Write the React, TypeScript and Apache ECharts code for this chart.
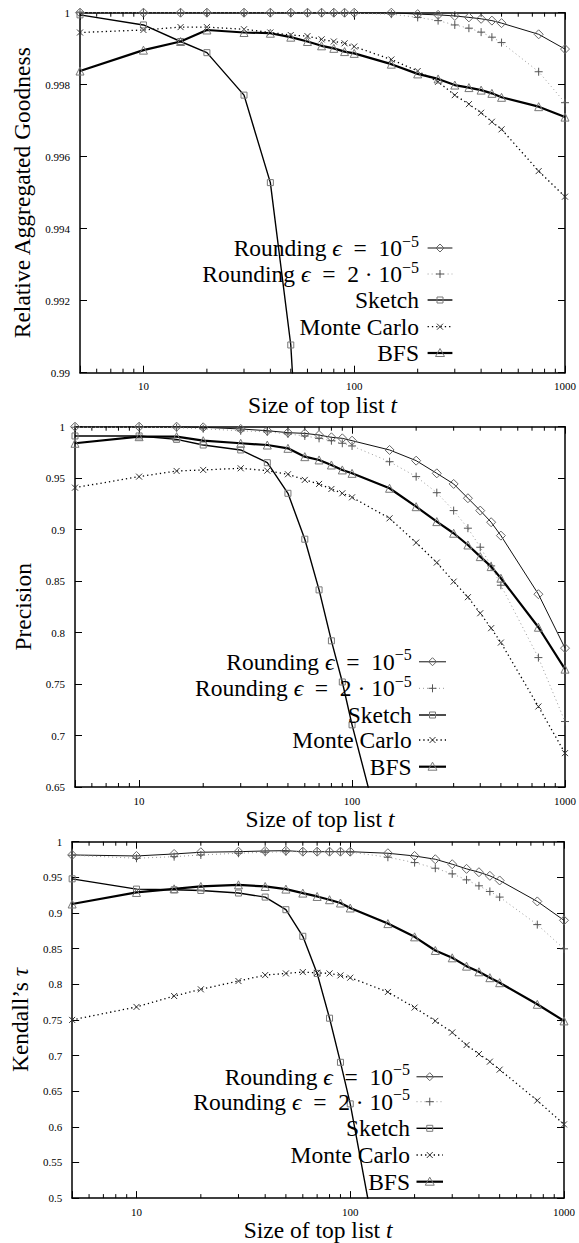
import React, { useEffect, useRef } from 'react';
import * as echarts from 'echarts';

// ---------------- data ----------------
const tValues = [5, 10, 15, 20, 30, 40, 50, 60, 70, 80, 90, 100, 150, 200, 250, 300, 350, 400, 450, 500, 750, 1000];
const minorTickValues = [6, 7, 8, 9, 20, 30, 40, 50, 60, 70, 80, 90, 200, 300, 400, 500, 600, 700, 800, 900];
const xLabelValues = [10, 100, 1000];

const seriesNames = ['Rounding ϵ = 10^-5', 'Rounding ϵ = 2·10^-5', 'Sketch', 'Monte Carlo', 'BFS'];

// Panel 1: Relative Aggregated Goodness
const goodRound1 = [1, 1, 1, 1, 1, 1, 1, 1, 1, 1, 1, 1, 1, 0.99996, 0.99994, 0.99991, 0.99987, 0.99983, 0.99978, 0.99971, 0.9994, 0.99899];
const goodRound2 = [1, 1, 1, 1, 1, 1, 1, 1, 1, 1, 0.99999, 0.99998, 0.99996, 0.99987, 0.99978, 0.99966, 0.99957, 0.99946, 0.99932, 0.99917, 0.99836, 0.9975];
const goodSketch = [0.99994, 0.99966, 0.9992, 0.99889, 0.99771, 0.99528, 0.99077, 0.983];
const goodMonteCarlo = [0.99945, 0.99952, 0.9996, 0.9996, 0.99954, 0.99945, 0.99938, 0.99935, 0.99926, 0.9992, 0.99915, 0.99906, 0.9987, 0.99838, 0.99808, 0.99771, 0.99746, 0.99722, 0.99697, 0.99676, 0.9956, 0.99489];
const goodBFS = [0.99838, 0.99896, 0.9992, 0.99952, 0.99945, 0.99943, 0.99932, 0.9992, 0.99908, 0.99901, 0.99892, 0.99887, 0.99857, 0.9983, 0.99816, 0.99799, 0.99792, 0.99785, 0.99776, 0.99765, 0.99739, 0.9971];

// Panel 2: Precision
const precRound1 = [1, 1, 1, 0.9994, 0.9978, 0.9961, 0.9942, 0.9935, 0.9919, 0.9897, 0.9887, 0.9864, 0.9774, 0.967, 0.9547, 0.9444, 0.9305, 0.9185, 0.9072, 0.8942, 0.8373, 0.7849];
const precRound2 = [0.9995, 0.9995, 0.999, 0.998, 0.996, 0.995, 0.993, 0.991, 0.9887, 0.9864, 0.9839, 0.9813, 0.966, 0.9515, 0.9359, 0.9185, 0.9014, 0.8829, 0.8648, 0.846, 0.7757, 0.7136];
const precSketch = [0.991, 0.991, 0.9877, 0.9822, 0.9774, 0.965, 0.9353, 0.8907, 0.8415, 0.792, 0.752, 0.7104, 0.57];
const precMonteCarlo = [0.9408, 0.9515, 0.957, 0.958, 0.9596, 0.9573, 0.9538, 0.9483, 0.9444, 0.9395, 0.9353, 0.9314, 0.911, 0.8874, 0.868, 0.8495, 0.8344, 0.8188, 0.8043, 0.7903, 0.7282, 0.6829];
const precBFS = [0.9839, 0.9903, 0.9903, 0.9864, 0.9839, 0.9822, 0.979, 0.9709, 0.9677, 0.9628, 0.958, 0.9547, 0.9402, 0.9223, 0.9078, 0.8965, 0.8851, 0.8738, 0.8641, 0.8528, 0.8052, 0.7645];

// Panel 3: Kendall's tau
const tauRound1 = [0.9814, 0.98, 0.9828, 0.9852, 0.986, 0.987, 0.9874, 0.986, 0.986, 0.986, 0.986, 0.986, 0.9838, 0.98, 0.9754, 0.9684, 0.9619, 0.9572, 0.9521, 0.9456, 0.9162, 0.8897];
const tauRound2 = [0.981, 0.9768, 0.979, 0.9814, 0.9838, 0.9852, 0.986, 0.986, 0.986, 0.986, 0.986, 0.9855, 0.9782, 0.9707, 0.9628, 0.9549, 0.9465, 0.9381, 0.9302, 0.9223, 0.8837, 0.8497];
const tauSketch = [0.9479, 0.9335, 0.9325, 0.9316, 0.928, 0.9223, 0.9046, 0.8673, 0.8152, 0.7524, 0.6905, 0.6322, 0.348];
const tauMonteCarlo = [0.75, 0.7682, 0.7835, 0.7929, 0.8045, 0.8129, 0.8152, 0.8171, 0.816, 0.8152, 0.8124, 0.8092, 0.7892, 0.7673, 0.7486, 0.7324, 0.7147, 0.7021, 0.6914, 0.6802, 0.6369, 0.6034];
const tauBFS = [0.9126, 0.9288, 0.9339, 0.9372, 0.9395, 0.9372, 0.9335, 0.9279, 0.9232, 0.9186, 0.914, 0.907, 0.8851, 0.8665, 0.8474, 0.8371, 0.8254, 0.8175, 0.8092, 0.8022, 0.7719, 0.7486];

const yMins = [0.99, 0.65, 0.5];
const yMaxs = [1, 1, 1];
const yIntervals = [0.002, 0.05, 0.05];

// ---------------- layout / style ----------------
const FONT = "'Liberation Serif', 'DejaVu Serif', 'Times New Roman', serif";
const BIG = 23.5;

const panels = [
  {
    grid: { left: 80, top: 12.7, width: 486.7, height: 360 },
    yName: 'Relative Aggregated Goodness',
    yNameGap: 46,
    xNameGap: 19,
    data: [goodRound1, goodRound2, goodSketch, goodMonteCarlo, goodBFS],
    legend: { rows: [248, 274, 300, 326.7, 353], textRight: 419, x1: 427.6, x2: 452.4 },
  },
  {
    grid: { left: 75, top: 426.7, width: 491.8, height: 360.3 },
    yName: 'Precision',
    yNameGap: 40,
    xNameGap: 19,
    data: [precRound1, precRound2, precSketch, precMonteCarlo, precBFS],
    legend: { rows: [661.7, 688.3, 715, 740, 766.7], textRight: 411.7, x1: 419, x2: 446 },
  },
  {
    grid: { left: 72, top: 841.7, width: 492, height: 359 },
    yName: '{n|Kendall’s }{i|τ}',
    yNameGap: 40,
    xNameGap: 17,
    data: [tauRound1, tauRound2, tauSketch, tauMonteCarlo, tauBFS],
    legend: { rows: [1076.7, 1101.7, 1128.3, 1155, 1181.7], textRight: 410, x1: 416.5, x2: 443 },
  },
];

const PLUS = 'path://M0,5L10,5M5,0L5,10';
const CROSS = 'path://M0,0L10,10M10,0L0,10';

const seriesStyles = [
  { symbol: 'diamond', size: 9, line: { color: '#111', width: 1, type: 'solid' as any }, mark: '#666', kind: 'diamond' },
  { symbol: PLUS, size: 8, line: { color: '#999', width: 1, type: [1, 3] as any }, mark: '#555', kind: 'plus' },
  { symbol: 'rect', size: 6, line: { color: '#000', width: 1.4, type: 'solid' as any }, mark: '#777', kind: 'square' },
  { symbol: CROSS, size: 6, line: { color: '#000', width: 1.3, type: [1.3, 3] as any }, mark: '#333', kind: 'x' },
  { symbol: 'triangle', size: 8, line: { color: '#000', width: 2.2, type: 'solid' as any }, mark: '#777', kind: 'triangle' },
];

const legendLabels = [
  '{m|Rounding }{e|ϵ}{m|\u2002=\u200210}{s|−5}',
  '{m|Rounding }{e|ϵ}{m|\u2002=\u20022 · 10}{s|−5}',
  '{m|Sketch}',
  '{m|Monte Carlo}',
  '{m|BFS}',
];

const legendRich = {
  m: { fontSize: BIG, fontFamily: FONT, lineHeight: 30, color: '#000' },
  e: { fontSize: BIG, fontFamily: FONT, fontStyle: 'italic', lineHeight: 30, color: '#000' },
  s: { fontSize: 16, fontFamily: FONT, lineHeight: 16, verticalAlign: 'top', color: '#000' },
};

const nameRich = {
  n: { fontSize: BIG, fontFamily: FONT, color: '#000' },
  i: { fontSize: BIG, fontFamily: FONT, fontStyle: 'italic', color: '#000' },
};

function markerGraphics(kind: string, cx: number, cy: number, color: string): any[] {
  const st = { fill: 'none', stroke: color, lineWidth: 1 };
  switch (kind) {
    case 'diamond':
      return [{ type: 'polygon', shape: { points: [[cx, cy - 4], [cx + 4, cy], [cx, cy + 4], [cx - 4, cy]] }, style: st }];
    case 'plus':
      return [
        { type: 'line', shape: { x1: cx - 4, y1: cy, x2: cx + 4, y2: cy }, style: st },
        { type: 'line', shape: { x1: cx, y1: cy - 4, x2: cx, y2: cy + 4 }, style: st },
      ];
    case 'square':
      return [{ type: 'rect', shape: { x: cx - 3, y: cy - 3, width: 6, height: 6 }, style: st }];
    case 'x':
      return [
        { type: 'line', shape: { x1: cx - 3, y1: cy - 3, x2: cx + 3, y2: cy + 3 }, style: st },
        { type: 'line', shape: { x1: cx + 3, y1: cy - 3, x2: cx - 3, y2: cy + 3 }, style: st },
      ];
    default:
      return [{ type: 'polygon', shape: { points: [[cx, cy - 4.5], [cx + 4.5, cy + 3.5], [cx - 4.5, cy + 3.5]] }, style: st }];
  }
}

function lineDash(t: any): number[] | undefined {
  return Array.isArray(t) ? t : undefined;
}

function isPow10(v: number) {
  return xLabelValues.some((p) => Math.abs(v - p) < 1e-6 * p);
}

function buildOption() {
  const grids: any[] = [];
  const xAxes: any[] = [];
  const yAxes: any[] = [];
  const series: any[] = [];
  const graphics: any[] = [];

  panels.forEach((p, pi) => {
    grids.push({ ...p.grid, containLabel: false });
    const common = {
      gridIndex: pi,
      axisLine: { show: true, onZero: false, lineStyle: { color: '#000', width: 1.5 } },
      splitLine: { show: false },
    };
    xAxes.push({
      ...common,
      type: 'log',
      logBase: 10,
      min: 5,
      max: 1000,
      position: 'bottom',
      axisTick: { show: true, inside: true, length: 7, lineStyle: { color: '#000', width: 1 } },
      axisLabel: {
        show: true,
        color: '#000',
        fontSize: 11,
        fontFamily: FONT,
        margin: 8,
        formatter: (v: number) => (isPow10(v) ? String(Math.round(v)) : ''),
      },
      name: '{n|Size of top list }{i|t}',
      nameLocation: 'middle',
      nameGap: p.xNameGap,
      nameTextStyle: { rich: nameRich, fontSize: BIG, fontFamily: FONT, color: '#000' },
    });
    xAxes.push({
      ...common,
      type: 'log',
      logBase: 10,
      min: 5,
      max: 1000,
      position: 'top',
      axisTick: { show: true, inside: true, length: 7, lineStyle: { color: '#000', width: 1 } },
      axisLabel: { show: false },
    });
    yAxes.push({
      ...common,
      type: 'value',
      min: yMins[pi],
      max: yMaxs[pi],
      interval: yIntervals[pi],
      position: 'left',
      axisTick: { show: true, inside: true, length: 7, lineStyle: { color: '#000', width: 1 } },
      axisLabel: { show: true, color: '#000', fontSize: 11, fontFamily: FONT, margin: 10 },
      name: p.yName,
      nameLocation: 'middle',
      nameRotate: 90,
      nameGap: p.yNameGap,
      nameTextStyle: { rich: nameRich, fontSize: BIG, fontFamily: FONT, color: '#000' },
    });
    yAxes.push({
      ...common,
      type: 'value',
      min: yMins[pi],
      max: yMaxs[pi],
      interval: yIntervals[pi],
      position: 'right',
      axisTick: { show: true, inside: true, length: 7, lineStyle: { color: '#000', width: 1 } },
      axisLabel: { show: false },
    });

    // minor ticks on the log axis (bottom and top)
    series.push({
      type: 'custom',
      xAxisIndex: pi * 2,
      yAxisIndex: pi * 2,
      silent: true,
      clip: false,
      data: minorTickValues.map((v) => [v, yMins[pi]]),
      renderItem: (params: any, api: any) => {
        const pt = api.coord([api.value(0), api.value(1)]);
        const cs = params.coordSys;
        const x = pt[0];
        const yb = cs.y + cs.height;
        return {
          type: 'group',
          children: [
            { type: 'line', shape: { x1: x, y1: yb, x2: x, y2: yb - 4 }, style: { stroke: '#000', lineWidth: 1 } },
            { type: 'line', shape: { x1: x, y1: cs.y, x2: x, y2: cs.y + 4 }, style: { stroke: '#000', lineWidth: 1 } },
          ],
        };
      },
    });

    p.data.forEach((vals, si) => {
      const s = seriesStyles[si];
      series.push({
        type: 'line',
        name: seriesNames[si],
        xAxisIndex: pi * 2,
        yAxisIndex: pi * 2,
        data: vals.map((v, i) => [tValues[i], v]),
        symbol: s.symbol,
        symbolSize: s.size,
        showSymbol: true,
        showAllSymbol: true,
        clip: true,
        silent: true,
        lineStyle: { color: s.line.color, width: s.line.width, type: s.line.type },
        itemStyle: { color: 'transparent', borderColor: s.mark, borderWidth: 1 },
        z: 2 + si,
      });
    });

    // legend (right-aligned text with line sample + marker)
    const L = p.legend;
    L.rows.forEach((y, si) => {
      const s = seriesStyles[si];
      graphics.push({
        type: 'text',
        x: L.textRight,
        y,
        z: 20,
        style: {
          text: legendLabels[si],
          rich: legendRich,
          align: 'right',
          verticalAlign: 'middle',
          fill: '#000',
          fontSize: BIG,
          fontFamily: FONT,
        },
      });
      graphics.push({
        type: 'line',
        z: 20,
        shape: { x1: L.x1, y1: y, x2: L.x2, y2: y },
        style: {
          stroke: si === 0 ? '#555' : s.line.color,
          lineWidth: si === 0 ? 1.4 : s.line.width,
          lineDash: lineDash(s.line.type),
        },
      });
      const cx = (L.x1 + L.x2) / 2;
      markerGraphics(s.kind, cx, y, s.mark).forEach((g) => graphics.push({ ...g, z: 21 }));
    });
  });

  return {
    animation: false,
    backgroundColor: '#fff',
    textStyle: { fontFamily: FONT },
    grid: grids,
    xAxis: xAxes,
    yAxis: yAxes,
    series,
    graphic: graphics,
  };
}

export default function App() {
  const ref = useRef<HTMLDivElement>(null);
  useEffect(() => {
    if (!ref.current) return;
    const chart = echarts.init(ref.current, null, { renderer: 'svg' });
    chart.setOption(buildOption() as any);
    return () => chart.dispose();
  }, []);
  return (
    <div
      ref={ref}
      style={{ position: 'absolute', left: 0, top: 0, width: 579, height: 1243, background: '#fff' }}
    />
  );
}
